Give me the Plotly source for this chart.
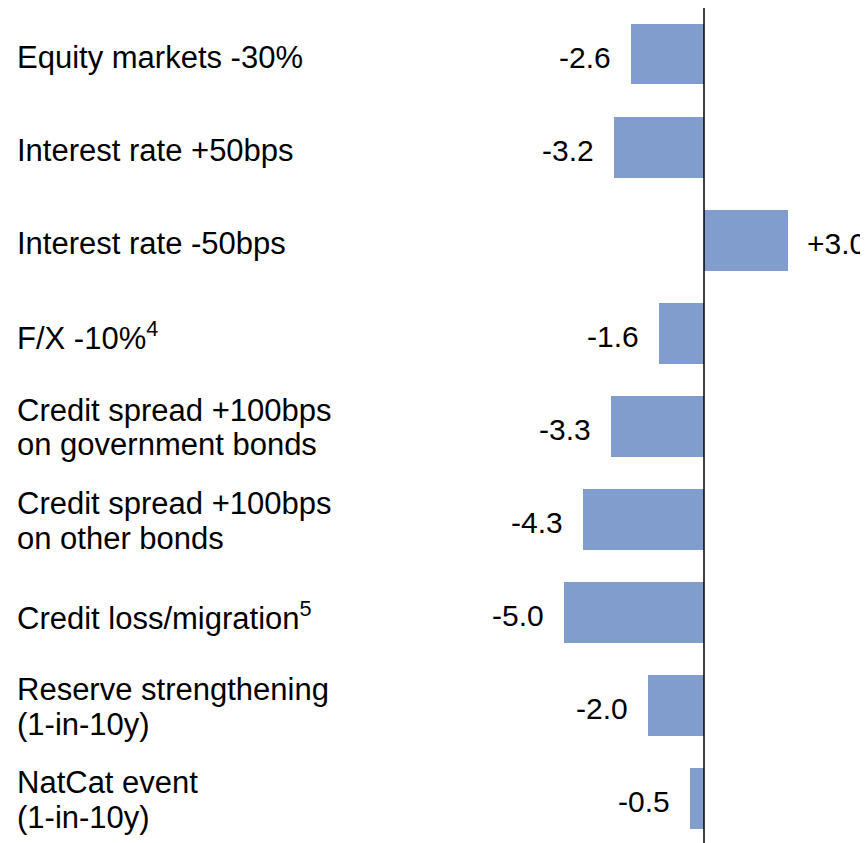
import plotly.graph_objects as go

categories = [
    "Equity markets -30%",
    "Interest rate +50bps",
    "Interest rate -50bps",
    "F/X -10%<sup>4</sup>",
    "Credit spread +100bps<br>on government bonds",
    "Credit spread +100bps<br>on other bonds",
    "Credit loss/migration<sup>5</sup>",
    "Reserve strengthening<br>(1-in-10y)",
    "NatCat event<br>(1-in-10y)",
]
values = [-2.6, -3.2, 3.0, -1.6, -3.3, -4.3, -5.0, -2.0, -0.5]
value_labels = ["-2.6", "-3.2", "+3.0", "-1.6", "-3.3", "-4.3", "-5.0", "-2.0", "-0.5"]

# page has an 8px body margin; figure drawn so it lands on the reference pixels
OFF = 8
W, H = 868 - OFF, 843 - OFF
FONT = "Liberation Sans, Arial, sans-serif"
LABEL_SIZE = 31
VALUE_SIZE = 30
idx = list(range(len(categories)))

fig = go.Figure()
fig.add_trace(go.Bar(
    x=values, y=idx, orientation="h",
    marker=dict(color="#809dce", line=dict(width=0)),
    width=0.655, hoverinfo="skip",
))

annotations = []
for i, (cat, v, lab) in enumerate(zip(categories, values, value_labels)):
    lines = cat.split("<br>")
    if len(lines) == 1:
        shifts = [-3]
    else:
        shifts = [16, -18.5]
    for line, s in zip(lines, shifts):
        annotations.append(dict(
            x=(16 - OFF - 1) / W, xref="paper", y=i, yref="y", text=line,
            showarrow=False, xanchor="left", yanchor="middle", align="left",
            yshift=s,
            font=dict(family=FONT, size=LABEL_SIZE, color="#000000"),
        ))
    annotations.append(dict(
        x=v, xref="x", y=i, yref="y", text=lab, showarrow=False,
        xanchor="right" if v < 0 else "left",
        xshift=-18 if v < 0 else 17, yanchor="middle", yshift=-3,
        font=dict(family=FONT, size=VALUE_SIZE, color="#000000"),
    ))

px_per_unit = 28.1
zero_px = 704 - OFF
xr = [-zero_px / px_per_unit, (W - zero_px) / px_per_unit]
row = 93.1
first = 54 - OFF
yr = [(H - first) / row, -first / row]

fig.add_shape(type="line", xref="x", yref="paper", x0=0, x1=0,
              y0=0, y1=1, line=dict(color="#000000", width=1.5))

fig.update_layout(
    width=W, height=H,
    margin=dict(l=0, r=0, t=0, b=0),
    paper_bgcolor="white", plot_bgcolor="white",
    showlegend=False,
    xaxis=dict(range=xr, visible=False, fixedrange=True),
    yaxis=dict(range=yr, visible=False, fixedrange=True),
    annotations=annotations,
    bargap=0,
)

fig.write_html("out.html")
